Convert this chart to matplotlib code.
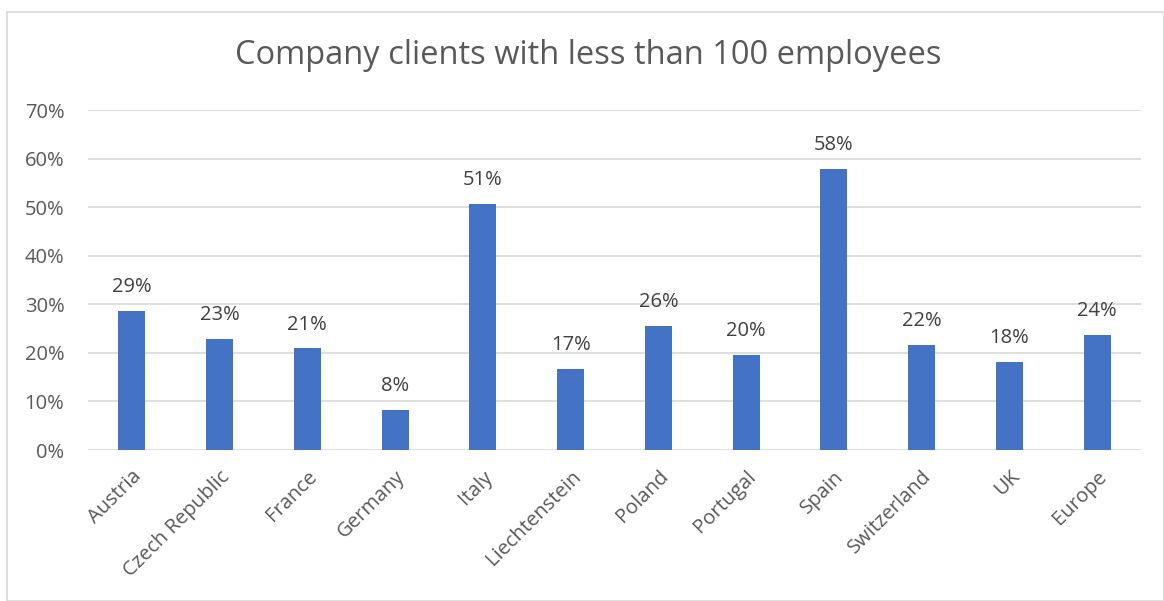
import matplotlib
matplotlib.use("Agg")
import matplotlib.pyplot as plt
from matplotlib.patches import Rectangle
from matplotlib.ticker import PercentFormatter

countries = ["Austria", "Czech Republic", "France", "Germany", "Italy", "Liechtenstein",
             "Poland", "Portugal", "Spain", "Switzerland", "UK", "Europe"]
share = [0.286, 0.229, 0.209, 0.082, 0.506, 0.166, 0.256, 0.196, 0.579, 0.216, 0.181, 0.236]
y_ticks = [0.0, 0.1, 0.2, 0.3, 0.4, 0.5, 0.6, 0.7]
title = "Company clients with less than 100 employees"

FONT = "Open Sans"
TEXT = "#595959"
BAR = "#4472C4"
GRID = "#D9D9D9"

W, H = 1164, 601
fig = plt.figure(figsize=(W / 100, H / 100), dpi=100)
fig.patch.set_facecolor("white")

# outer chart frame
fig.add_artist(Rectangle((7 / W, 0), (W - 7) / W, (H - 12) / H, transform=fig.transFigure,
                         fill=False, edgecolor="#D9D9D9", linewidth=1.2))

ax = fig.add_axes([88 / W, 1 - 450 / H, (1141 - 88) / W, (450 - 110) / H])
x = list(range(len(countries)))
bars = ax.bar(x, share, width=0.31, color=BAR, zorder=3)

ax.set_xlim(-0.5, len(countries) - 0.5)
ax.set_ylim(0, 0.7)
ax.set_yticks(y_ticks)
ax.yaxis.set_major_formatter(PercentFormatter(1.0, decimals=0))
ax.grid(axis="y", color=GRID, linewidth=1.2, zorder=0)
for s in ax.spines.values():
    s.set_visible(False)
ax.tick_params(axis="both", length=0, labelcolor=TEXT, labelsize=14.5)
ax.tick_params(axis="y", pad=17)
for lab in ax.get_yticklabels():
    lab.set_fontfamily(FONT)

ax.set_xticks(x)
ax.set_xticklabels(countries, rotation=45, ha="right", rotation_mode="anchor",
                   fontfamily=FONT, fontsize=14.5, color=TEXT)
ax.tick_params(axis="x", pad=12)

for rect, v in zip(bars, share):
    ax.annotate(f"{v * 100:.0f}%", (rect.get_x() + rect.get_width() / 2, v),
                xytext=(0, 10), textcoords="offset points", ha="center", va="bottom",
                fontfamily=FONT, fontsize=14.5, color="#404040")

fig.text(588 / W, 1 - 55 / H, title, ha="center", va="center",
         fontfamily=FONT, fontsize=23.5, color=TEXT)

fig.savefig("out.png", dpi=100)
